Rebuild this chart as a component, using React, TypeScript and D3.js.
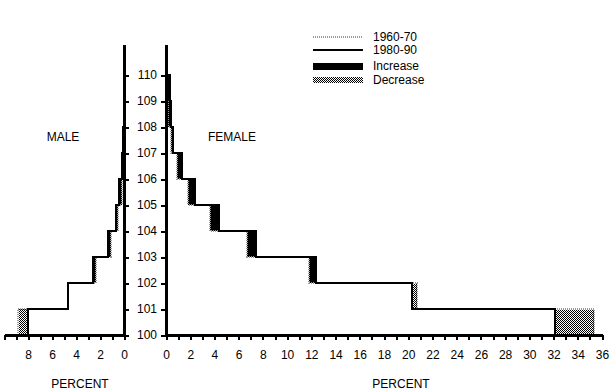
import React, { useEffect, useRef } from 'react';
import * as d3 from 'd3';

// age bins (lower bound of each one-year interval)
const ageBins = [100, 101, 102, 103, 104, 105, 106, 107, 108, 109];

// percent of centenarians in each age bin
const female6070 = [35.3, 20.7, 11.8, 6.7, 3.6, 1.85, 0.9, 0.4, 0.2, 0.0];
const female8090 = [32.1, 20.3, 12.4, 7.4, 4.4, 2.4, 1.35, 0.6, 0.4, 0.3];
const male6070 = [8.8, 4.7, 2.3, 1.1, 0.5, 0.2, 0.1, 0.0, 0.0, 0.0];
const male8090 = [8.0, 4.7, 2.6, 1.35, 0.7, 0.4, 0.2, 0.1, 0.0, 0.0];

const legendLabels = ['1960-70', '1980-90', 'Increase', 'Decrease'];

const FONT = '"Liberation Sans", Arial, sans-serif';

const App: React.FC = () => {
  const svgRef = useRef<SVGSVGElement | null>(null);

  useEffect(() => {
    const width = 616;
    const height = 392;

    const svg = d3.select(svgRef.current)
      .attr('width', width)
      .attr('height', height);

    svg.selectAll('*').remove();

    // Scales
    const y = d3.scaleLinear().domain([100, 110]).range([335, 75]);
    const xF = d3.scaleLinear().domain([0, 36]).range([166, 602]);
    const xM = d3.scaleLinear().domain([0, 10]).range([124, 4]);
    const yTop = 111.15;

    // hatched "decrease" pattern (dithered checkerboard)
    const defs = svg.append('defs');
    const pat = defs.append('pattern')
      .attr('id', 'hatch')
      .attr('patternUnits', 'userSpaceOnUse')
      .attr('width', 2)
      .attr('height', 2);
    pat.append('rect').attr('width', 2).attr('height', 2).attr('fill', '#fff');
    pat.append('rect').attr('width', 1).attr('height', 1).attr('fill', '#000');
    pat.append('rect').attr('x', 1).attr('y', 1).attr('width', 1).attr('height', 1).attr('fill', '#000');

    const stepPoints = (vals: number[]) => {
      const pts: [number, number][] = [];
      vals.forEach((v, i) => {
        pts.push([v, ageBins[i]]);
        pts.push([v, ageBins[i] + 1]);
      });
      pts.push([0, ageBins[ageBins.length - 1] + 1]);
      return pts;
    };

    const drawSide = (xs: d3.ScaleLinear<number, number>, old: number[], recent: number[]) => {
      const g = svg.append('g');

      // change areas
      ageBins.forEach((a, i) => {
        const lo = Math.min(xs(old[i]), xs(recent[i]));
        const hi = Math.max(xs(old[i]), xs(recent[i]));
        if (hi - lo < 0.5) return;
        g.append('rect')
          .attr('x', lo)
          .attr('y', y(a + 1))
          .attr('width', hi - lo)
          .attr('height', y(a) - y(a + 1))
          .attr('fill', recent[i] > old[i] ? '#000' : 'url(#hatch)')
          .attr('shape-rendering', 'crispEdges');
      });

      const line = d3.line<[number, number]>()
        .x(d => xs(d[0]))
        .y(d => y(d[1]));

      // 1960-70 (grey dotted)
      g.append('path')
        .attr('d', line(stepPoints(old)))
        .attr('fill', 'none')
        .attr('stroke', '#999')
        .attr('stroke-width', 2)
        .attr('stroke-dasharray', '1,1')
        .attr('shape-rendering', 'crispEdges');

      // 1980-90 (black)
      g.append('path')
        .attr('d', line(stepPoints(recent)))
        .attr('fill', 'none')
        .attr('stroke', '#000')
        .attr('stroke-width', 2)
        .attr('shape-rendering', 'crispEdges');
    };

    drawSide(xM, male6070, male8090);
    drawSide(xF, female6070, female8090);

    // X axes
    const styleAxis = (g: d3.Selection<SVGGElement, unknown, null, undefined>) => {
      g.select('.domain').attr('stroke-width', 3);
      g.selectAll('.tick line').attr('stroke-width', 2);
      g.selectAll('.tick text')
        .attr('font-family', FONT)
        .attr('font-size', 12)
        .attr('fill', '#000');
      g.attr('shape-rendering', 'crispEdges');
    };

    const gxF = svg.append('g')
      .attr('transform', `translate(0, ${y(100)})`)
      .call(d3.axisBottom(xF)
        .tickValues(d3.range(0, 37))
        .tickSize(5)
        .tickSizeOuter(0)
        .tickPadding(10)
        .tickFormat(d => (+d % 2 === 0 ? String(d) : '')));
    styleAxis(gxF);

    const gxM = svg.append('g')
      .attr('transform', `translate(0, ${y(100)})`)
      .call(d3.axisBottom(xM)
        .tickValues(d3.range(0, 11))
        .tickSize(5)
        .tickSizeOuter(0)
        .tickPadding(10)
        .tickFormat(d => (+d % 2 === 0 && +d < 10 ? String(d) : '')));
    styleAxis(gxM);

    // Y axes
    const gyM = svg.append('g')
      .attr('transform', `translate(${xM(0)}, 0)`)
      .call(d3.axisRight(y).ticks(10).tickSize(5).tickFormat(() => ''));
    gyM.select('.domain').remove();
    styleAxis(gyM);

    const gyF = svg.append('g')
      .attr('transform', `translate(${xF(0)}, 0)`)
      .call(d3.axisLeft(y).ticks(10).tickSize(5).tickPadding(4).tickFormat(d3.format('d')));
    gyF.select('.domain').remove();
    styleAxis(gyF);

    [xM(0), xF(0)].forEach(x0 => {
      svg.append('line')
        .attr('x1', x0).attr('x2', x0)
        .attr('y1', y(yTop)).attr('y2', y(100) + 1)
        .attr('stroke', '#000')
        .attr('stroke-width', 3)
        .attr('shape-rendering', 'crispEdges');
    });

    // Titles
    const text = (x: number, yy: number, s: string, anchor = 'middle') =>
      svg.append('text')
        .attr('x', x).attr('y', yy)
        .attr('text-anchor', anchor)
        .attr('font-family', FONT)
        .attr('font-size', 12)
        .attr('fill', '#000')
        .text(s);

    text(63, 141, 'MALE');
    text(232, 141, 'FEMALE');
    text(80, 388, 'PERCENT');
    text(401, 388, 'PERCENT');

    // Legend
    const legY = [37, 50, 66, 80];
    const lg = svg.append('g').attr('shape-rendering', 'crispEdges');
    lg.append('line').attr('x1', 313).attr('x2', 363).attr('y1', legY[0]).attr('y2', legY[0])
      .attr('stroke', '#999').attr('stroke-width', 2).attr('stroke-dasharray', '1,1');
    lg.append('line').attr('x1', 313).attr('x2', 363).attr('y1', legY[1]).attr('y2', legY[1])
      .attr('stroke', '#000').attr('stroke-width', 2);
    lg.append('rect').attr('x', 313).attr('y', legY[2] - 3).attr('width', 50).attr('height', 7)
      .attr('fill', '#000');
    lg.append('rect').attr('x', 313).attr('y', legY[3] - 3).attr('width', 50).attr('height', 6)
      .attr('fill', 'url(#hatch)');
    legendLabels.forEach((l, i) => {
      text(373, legY[i] + 4, l, 'start');
    });
  }, []);

  return (
    <svg ref={svgRef} style={{ position: 'absolute', left: 0, top: 0, background: '#fff' }}></svg>
  );
};

export default App;
